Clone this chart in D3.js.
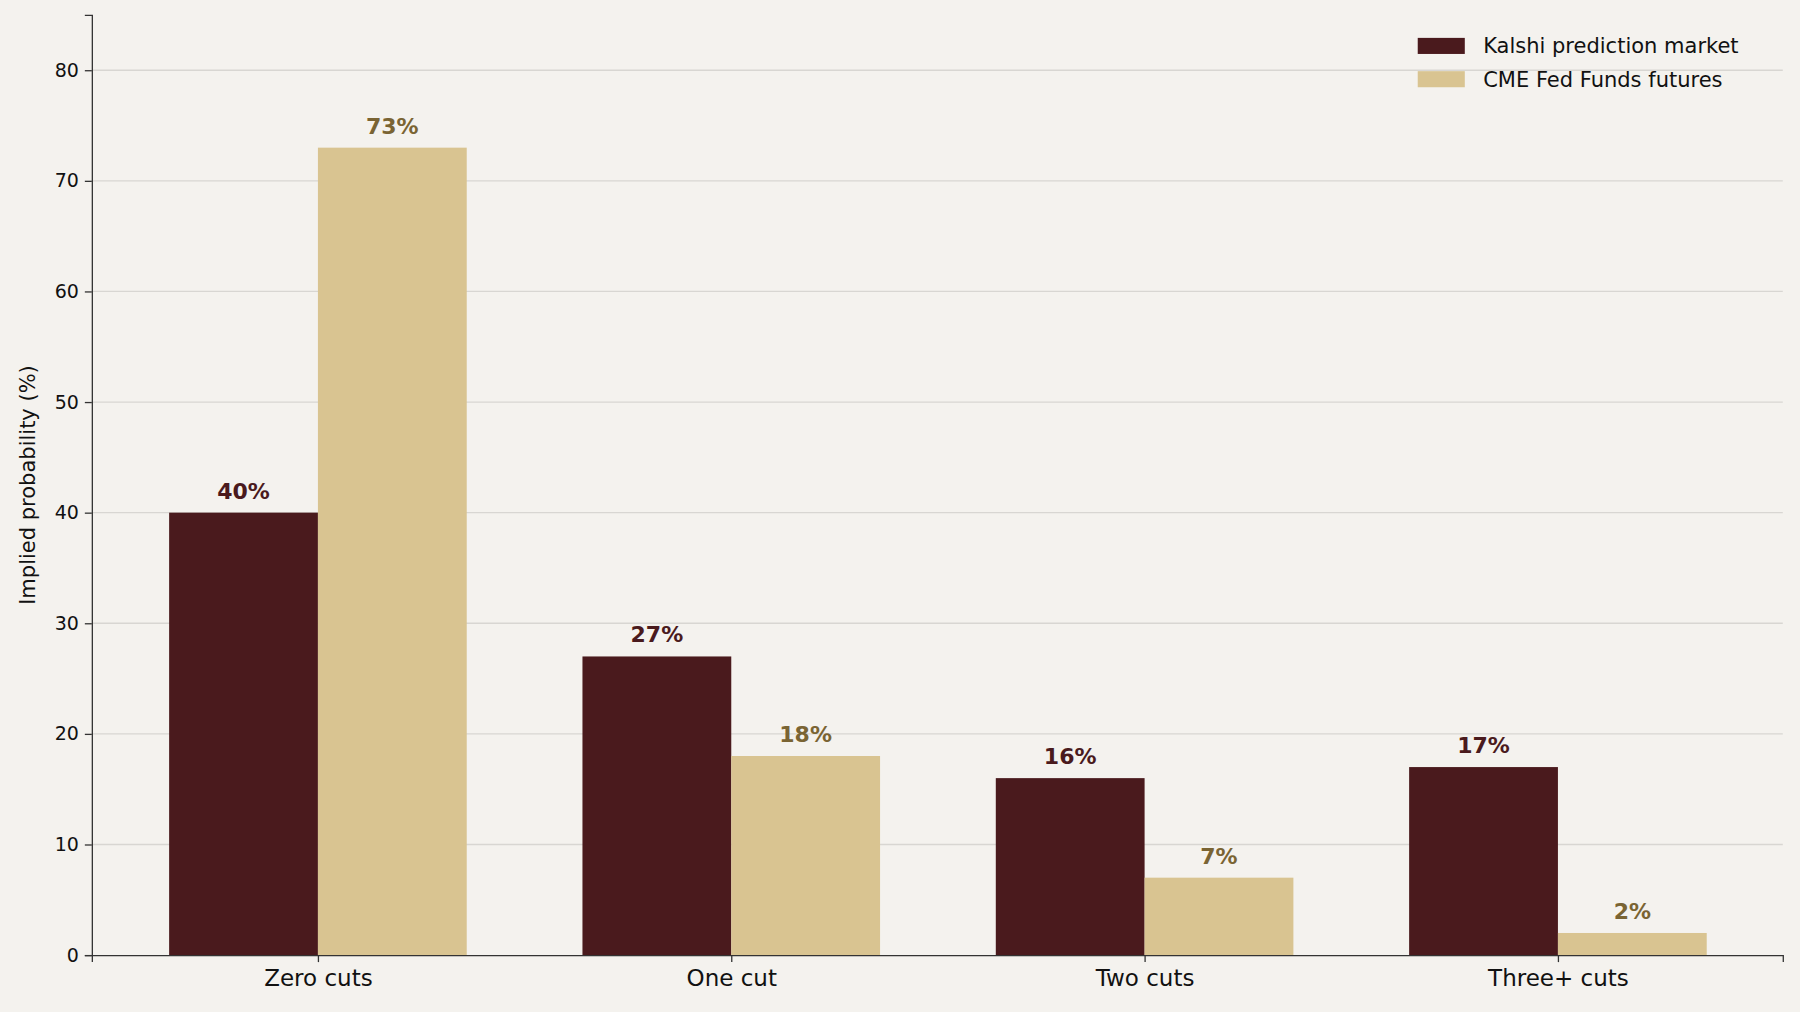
<!DOCTYPE html>
<html><head><meta charset="utf-8">
<script src="https://cdn.jsdelivr.net/npm/d3@7/dist/d3.min.js"></script>
<style>body{margin:0;background:#f4f2ee}svg{display:block}text{font-family:"DejaVu Sans",sans-serif}</style>
</head><body>
<script>
var categories = ['Zero cuts', 'One cut', 'Two cuts', 'Three+ cuts'];
var kalshi = [40, 27, 16, 17];
var cme = [73, 18, 7, 2];
var seriesNames = ['Kalshi prediction market', 'CME Fed Funds futures'];
var yTicks = [0, 10, 20, 30, 40, 50, 60, 70, 80];

var W = 1800, H = 1012, s = 1800 / 1568;
var colors = ['#4a1a1d', '#d9c491'], labelColors = ['#4a1a1d', '#7a6433'];
var svg = d3.select('body').append('svg').attr('width', W).attr('height', H);
svg.append('rect').attr('width', W).attr('height', H).attr('fill', '#f4f2ee');

var x = d3.scaleLinear().domain([-0.547, 3.544]).range([80 * s, 1553 * s]);
var y = d3.scaleLinear().domain([0, 85]).range([832 * s, 13 * s]);
var bw = 0.36;

var g = svg.append('g');
g.selectAll('.grid').data(yTicks.slice(1)).enter().append('line')
  .attr('x1', x.range()[0]).attr('x2', x.range()[1])
  .attr('y1', function (d) { return y(d); }).attr('y2', function (d) { return y(d); })
  .attr('stroke', '#d8d6d2').attr('stroke-width', 1.3);

[kalshi, cme].forEach(function (vals, si) {
  var off = si === 0 ? -bw : 0;
  g.selectAll('.b' + si).data(vals).enter().append('rect')
    .attr('x', function (d, i) { return x(i + off); })
    .attr('width', x(bw) - x(0))
    .attr('y', function (d) { return y(d); })
    .attr('height', function (d) { return y(0) - y(d); })
    .attr('fill', colors[si]);
  g.selectAll('.l' + si).data(vals).enter().append('text')
    .attr('x', function (d, i) { return x(i + off + bw / 2); })
    .attr('y', function (d) { return y(d) - 14; })
    .attr('text-anchor', 'middle').attr('font-size', 22).attr('font-weight', 'bold')
    .attr('fill', labelColors[si]).text(function (d) { return d + '%'; });
});

var ya = svg.append('g').attr('transform', 'translate(' + x.range()[0] + ',0)')
  .call(d3.axisLeft(y).tickValues(yTicks).tickSize(7).tickPadding(6));
ya.selectAll('text').attr('font-size', 19).attr('fill', '#111');
var xa = svg.append('g').attr('transform', 'translate(0,' + y(0) + ')')
  .call(d3.axisBottom(x).tickValues([0, 1, 2, 3]).tickFormat(function (d) { return categories[d]; }).tickSize(7).tickPadding(8));
xa.selectAll('text').attr('font-size', 23).attr('fill', '#111');
[ya, xa].forEach(function (a) {
  a.select('.domain').attr('stroke', '#333').attr('stroke-width', 1.3);
  a.selectAll('.tick line').attr('stroke', '#333').attr('stroke-width', 1.3);
});
svg.append('text').attr('transform', 'translate(' + (24 * s) + ',' + (y(42.5)) + ') rotate(-90)')
  .attr('text-anchor', 'middle').attr('dy', '0.35em').attr('font-size', 21).attr('fill', '#111')
  .text('Implied probability (%)');

var lg = svg.append('g');
seriesNames.forEach(function (n, i) {
  lg.append('rect').attr('x', 1235 * s).attr('y', (33 + 29 * i) * s).attr('width', 41 * s).attr('height', 14 * s).attr('fill', colors[i]);
  lg.append('text').attr('x', 1292 * s).attr('y', (40 + 29 * i) * s).attr('dy', '0.35em')
    .attr('font-size', 21).attr('fill', '#111').text(n);
});
</script>
</body></html>
